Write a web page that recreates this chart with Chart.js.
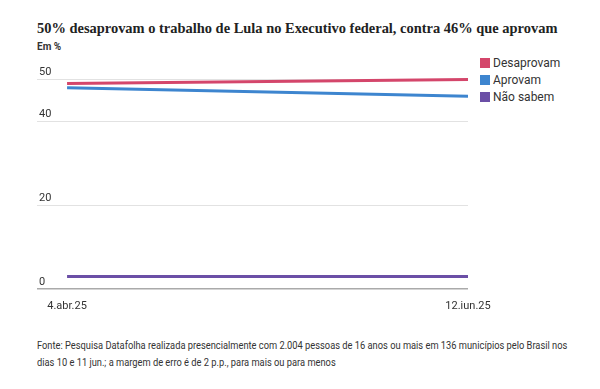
<!DOCTYPE html>
<html>
<head>
<meta charset="utf-8">
<script src="https://cdn.jsdelivr.net/npm/chart.js@4/dist/chart.umd.min.js"></script>
<style>
  html, body { margin: 0; padding: 0; background: #fff; }
  body { width: 600px; height: 389px; position: relative; overflow: hidden; font-family: Roboto, sans-serif; color: #333; }
  #title { position: absolute; left: 37px; top: 20px; font: bold 15px "Liberation Serif", serif; color: #222; white-space: nowrap; }
  #sub { position: absolute; left: 37px; top: 41px; font-size: 10px; font-weight: bold; color: #333; }
  #legend { position: absolute; left: 480px; top: 55px; font-size: 12px; color: #333; }
  #legend div { height: 17px; line-height: 17px; white-space: nowrap; }
  #legend span { display: inline-block; width: 10px; height: 10px; margin-right: 3px; vertical-align: -1px; }
  #note { position: absolute; left: 37px; top: 337px; font-size: 11px; line-height: 17px; color: #333; white-space: nowrap; transform-origin: 0 0; }
  canvas { position: absolute; left: 0; top: 0; }
</style>
</head>
<body>
<div id="title">50% desaprovam o trabalho de Lula no Executivo federal, contra 46% que aprovam</div>
<div id="sub">Em %</div>
<div id="legend"></div>
<div id="note">Fonte: Pesquisa Datafolha realizada presencialmente com 2.004 pessoas de 16 anos ou mais em 136 municípios pelo Brasil nos<br>dias 10 e 11 jun.; a margem de erro é de 2 p.p., para mais ou para menos</div>
<canvas id="chart" width="600" height="389"></canvas>
<script>
// Survey dates and results (%).
const dates = ['4.abr.25', '12.jun.25'];
const desaprovam = [49, 50];
const aprovam = [48, 46];
const naoSabem = [3, 3];
const yTicks = [0, 20, 40, 50];

const series = [
    { label: 'Desaprovam', data: desaprovam, color: '#d4466b' },
    { label: 'Aprovam', data: aprovam, color: '#3d85cf' },
    { label: 'Não sabem', data: naoSabem, color: '#6b4fa6' },
];

// HTML legend, same order as the reference.
document.getElementById('legend').innerHTML = series
    .map((s) => `<div><span style="background:${s.color}"></span>${s.label}</div>`)
    .join('');

// Fit text blocks to the widths of the source (which uses other faces).
const title = document.getElementById('title');
title.style.fontSize = (15 * 521 / title.offsetWidth).toFixed(2) + 'px';
const note = document.getElementById('note');
note.style.transform = `scaleX(${530 / note.offsetWidth})`;

const font = { family: 'Roboto, sans-serif', size: 11 };

new Chart(document.getElementById('chart'), {
    type: 'line',
    data: {
        datasets: series.map((s) => ({
            label: s.label,
            data: s.data.map((v, i) => ({ x: i, y: v })),
            borderColor: s.color,
            backgroundColor: s.color,
            borderWidth: 3,
            pointRadius: 0,
            tension: 0,
        })),
    },
    options: {
        responsive: false,
        animation: false,
        // plot area: x 35..468, y 71..289
        layout: { padding: { left: 33, right: 132, top: 71, bottom: 80 } },
        plugins: { legend: { display: false }, tooltip: { enabled: false } },
        scales: {
            x: {
                type: 'linear',
                min: -0.075,
                max: 1,
                afterBuildTicks: (axis) => { axis.ticks = dates.map((d, i) => ({ value: i })); },
                afterFit: (axis) => { axis.height = 20; axis.paddingLeft = 0; axis.paddingRight = 0; },
                ticks: { callback: (v) => dates[v], color: '#333', font, padding: 11, maxRotation: 0 },
                grid: { display: false, drawTicks: false },
                border: { display: false },
            },
            y: {
                min: 0,
                max: 52,
                afterBuildTicks: (axis) => { axis.ticks = yTicks.map((v) => ({ value: v })); },
                afterFit: (axis) => { axis.paddingTop = 0; axis.paddingBottom = 0; },
                ticks: { mirror: true, padding: 2, labelOffset: -7, color: '#333', font },
                grid: {
                    drawTicks: false,
                    color: (ctx) => (ctx.tick && ctx.tick.value === 0 ? '#aaaaaa' : '#e2e2e2'),
                    lineWidth: (ctx) => (ctx.tick && ctx.tick.value === 0 ? 1.5 : 1),
                },
                border: { display: false },
            },
        },
    },
});
</script>
</body>
</html>
